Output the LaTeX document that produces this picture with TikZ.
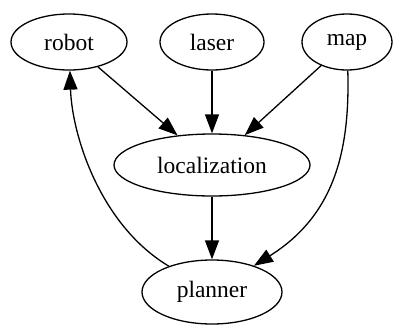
\documentclass[tikz,border=0pt]{standalone}
\usepackage{fontspec}
\newfontfamily\labelfont{Liberation Serif}
\usetikzlibrary{shapes.geometric,arrows.meta}
\begin{document}
\begin{tikzpicture}[x=1pt,y=-1pt,
  nd/.style={ellipse,draw,line width=1.3pt,inner sep=0pt,font=\labelfont\fontsize{23.5}{28}\selectfont},
  edge/.style={line width=1.3pt,-{Triangle[length=19pt,width=14pt]}}]
\useasboundingbox (0,0) rectangle (394,327);
\node[nd,minimum width=116pt,minimum height=56pt] (robot) at (69,42) {robot};
\node[nd,minimum width=104pt,minimum height=56pt] (laser) at (212,42) {laser};
\node[nd,minimum width=90pt,minimum height=56pt] (map) at (347,42) {map};
\node[nd,minimum width=196pt,minimum height=62pt] (loc) at (212,165) {localization};
\node[nd,minimum width=140pt,minimum height=64pt] (planner) at (212,292) {planner};
\draw[edge] (robot) -- (loc);
\draw[edge] (laser) -- (loc);
\draw[edge] (map) -- (loc);
\draw[edge] (loc) -- (planner);
\draw[edge] (map) .. controls (350,150) and (335,215) .. (planner);
\draw[edge] (planner) .. controls (100,225) and (72,135) .. (robot);
\end{tikzpicture}
\end{document}
